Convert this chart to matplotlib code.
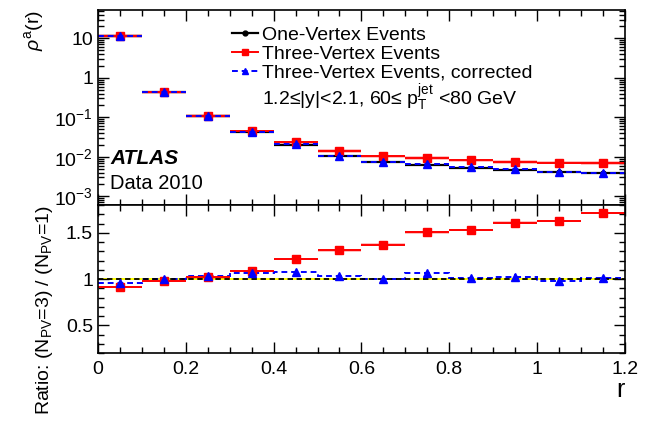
import matplotlib
matplotlib.use("Agg")
import matplotlib.pyplot as plt
import numpy as np
from matplotlib.lines import Line2D
from matplotlib.ticker import MultipleLocator, LogLocator, FixedLocator, NullFormatter

plt.rcParams['font.family'] = ['Liberation Sans', 'DejaVu Sans']
plt.rcParams['mathtext.fontset'] = 'custom'
plt.rcParams['mathtext.rm'] = 'Liberation Sans'
plt.rcParams['mathtext.it'] = 'Liberation Sans:italic'
plt.rcParams['mathtext.bf'] = 'Liberation Sans:bold'

# bins in r
edges = [0.0, 0.1, 0.2, 0.3, 0.4, 0.5, 0.6, 0.7, 0.8, 0.9, 1.0, 1.1, 1.2]

# rho^a(r) values
one_vtx = [11.6, 0.43, 0.106, 0.042, 0.020, 0.0107, 0.0074, 0.0063, 0.0053, 0.0047, 0.0041, 0.0040]
three_vtx = [11.4, 0.43, 0.108, 0.044, 0.0233, 0.014, 0.0103, 0.0093, 0.0081, 0.0075, 0.0071, 0.0070]
three_corr = [11.3, 0.43, 0.107, 0.042, 0.0205, 0.0106, 0.0074, 0.0064, 0.0054, 0.0048, 0.0041, 0.0040]

# ratios to one-vertex
ratio_red = [0.916, 0.98, 1.017, 1.087, 1.213, 1.31, 1.373, 1.503, 1.53, 1.61, 1.63, 1.713]
ratio_red_err = [0.012, 0.012, 0.013, 0.015, 0.012, 0.013, 0.013, 0.016, 0.014, 0.018, 0.012, 0.015]
ratio_blue = [0.96, 0.995, 1.036, 1.065, 1.08, 1.036, 1.003, 1.06, 1.014, 1.02, 0.975, 1.007]
ratio_blue_err = [0.02, 0.015, 0.02, 0.02, 0.02, 0.02, 0.02, 0.03, 0.02, 0.03, 0.02, 0.025]

edges = np.array(edges)
left = edges[:-1]
right = edges[1:]
centers = 0.5 * (left + right)
red = '#ff0000'
blue = '#0000ff'

fig = plt.figure(figsize=(6.53, 4.21), dpi=100)
ax1 = fig.add_axes([0.150, 0.513, 0.807, 0.463])
ax2 = fig.add_axes([0.150, 0.1615, 0.807, 0.3515])

# ---- top panel ----
three = np.array(three_vtx)
for l, r_, v in zip(left, right, three):
    ax1.fill_between([l, r_], v * 0.9, v * 1.1, color=red, alpha=0.25, lw=0)
ax1.hlines(one_vtx, left, right, colors='black', lw=1.6)
ax1.plot(centers, one_vtx, 'o', color='black', ms=3.5)
ax1.hlines(three_vtx, left, right, colors=red, lw=1.4)
ax1.plot(centers, three_vtx, 's', color=red, ms=5.5)
ax1.hlines(three_corr, left, right, colors=blue, lw=1.4, linestyles=(0, (3, 2)))
ax1.plot(centers, three_corr, '^', color=blue, ms=5.5)

ax1.set_yscale('log')
ax1.set_ylim(6e-4, 52)
ax1.set_xlim(0, 1.2)
ax1.yaxis.set_major_locator(FixedLocator([1e-3, 1e-2, 1e-1, 1, 10]))
ax1.set_yticklabels(['$10^{-3}$', '$10^{-2}$', '$10^{-1}$', '1', '10'])
ax1.yaxis.set_minor_locator(LogLocator(base=10, subs=np.arange(2, 10), numticks=20))
ax1.yaxis.set_minor_formatter(NullFormatter())
ax1.xaxis.set_major_locator(MultipleLocator(0.2))
ax1.xaxis.set_minor_locator(MultipleLocator(0.05))
ax1.tick_params(labelbottom=False)
ax1.set_ylabel(r'$\rho^{\mathrm{a}}\mathrm{(r)}$', fontsize=14, loc='top', labelpad=6)

handles = [
    Line2D([], [], color='black', lw=1.6, marker='o', ms=3.5),
    Line2D([], [], color=red, lw=1.4, marker='s', ms=5),
    Line2D([], [], color=blue, lw=1.4, ls=(0, (3, 2)), marker='^', ms=5),
    Line2D([], [], color='none'),
]
labels = ['One-Vertex Events', 'Three-Vertex Events', 'Three-Vertex Events, corrected',
          '1.2≤|y|<2.1, 60≤ ' + r'$\mathrm{p}_{\mathrm{T}}^{\mathrm{jet}}$' + ' <80 GeV']
ax1.legend(handles, labels, loc='upper left', bbox_to_anchor=(0.255, 0.915), frameon=False,
           fontsize=14, handlelength=1.3, handletextpad=0.25, labelspacing=0.05,
           borderaxespad=0, borderpad=0)

ax1.text(0.023, 0.241, 'ATLAS', transform=ax1.transAxes, fontsize=15,
         fontweight='bold', fontstyle='italic', va='center')
ax1.text(0.023, 0.113, 'Data 2010', transform=ax1.transAxes, fontsize=14.5, va='center')

# ---- ratio panel ----
ax2.axhspan(0.99, 1.01, color='yellow', lw=0)
ax2.axhline(1.0, color='black', ls=(0, (3, 2)), lw=1.3)

rr = np.array(ratio_red)
re = np.array(ratio_red_err)
for l, r_, v, e in zip(left, right, rr, re):
    ax2.fill_between([l, r_], v - e, v + e, color=red, alpha=0.25, lw=0)
ax2.hlines(ratio_red, left, right, colors=red, lw=1.4)
ax2.vlines(centers, rr - re, rr + re, colors=red, lw=1.2)
ax2.plot(centers, ratio_red, 's', color=red, ms=5.5)

ax2.stairs(ratio_blue, edges, color=blue, lw=1.4, ls=(0, (3, 2)), baseline=None)
rb = np.array(ratio_blue)
ax2.vlines(centers, rb - np.array(ratio_blue_err), rb + np.array(ratio_blue_err), colors=blue, lw=1.2)
ax2.plot(centers, ratio_blue, '^', color=blue, ms=5.5)

ax2.set_xlim(0, 1.2)
ax2.set_ylim(0.2, 1.8)
ax2.xaxis.set_major_locator(MultipleLocator(0.2))
ax2.xaxis.set_minor_locator(MultipleLocator(0.05))
ax2.yaxis.set_major_locator(FixedLocator([0.5, 1.0, 1.5]))
ax2.set_yticklabels(['0.5', '1', '1.5'])
ax2.yaxis.set_minor_locator(MultipleLocator(0.1))
ax2.set_xticks([0, 0.2, 0.4, 0.6, 0.8, 1.0, 1.2])
ax2.set_xticklabels(['0', '0.2', '0.4', '0.6', '0.8', '1', '1.2'])
ax2.set_xlabel('r', fontsize=18, loc='right', labelpad=0)
ax2.set_ylabel(r'Ratio: (N$_{\mathrm{PV}}$=3) / (N$_{\mathrm{PV}}$=1)', fontsize=14,
               loc='top', labelpad=8)

for ax in (ax1, ax2):
    ax.tick_params(which='both', direction='in', top=True, right=True, labelsize=14, width=1)
    ax.tick_params(which='major', length=8)
    ax.tick_params(which='minor', length=4)
    for s in ax.spines.values():
        s.set_linewidth(1.2)
ax2.tick_params(axis='x', pad=6)

fig.savefig('out.png', dpi=100)
